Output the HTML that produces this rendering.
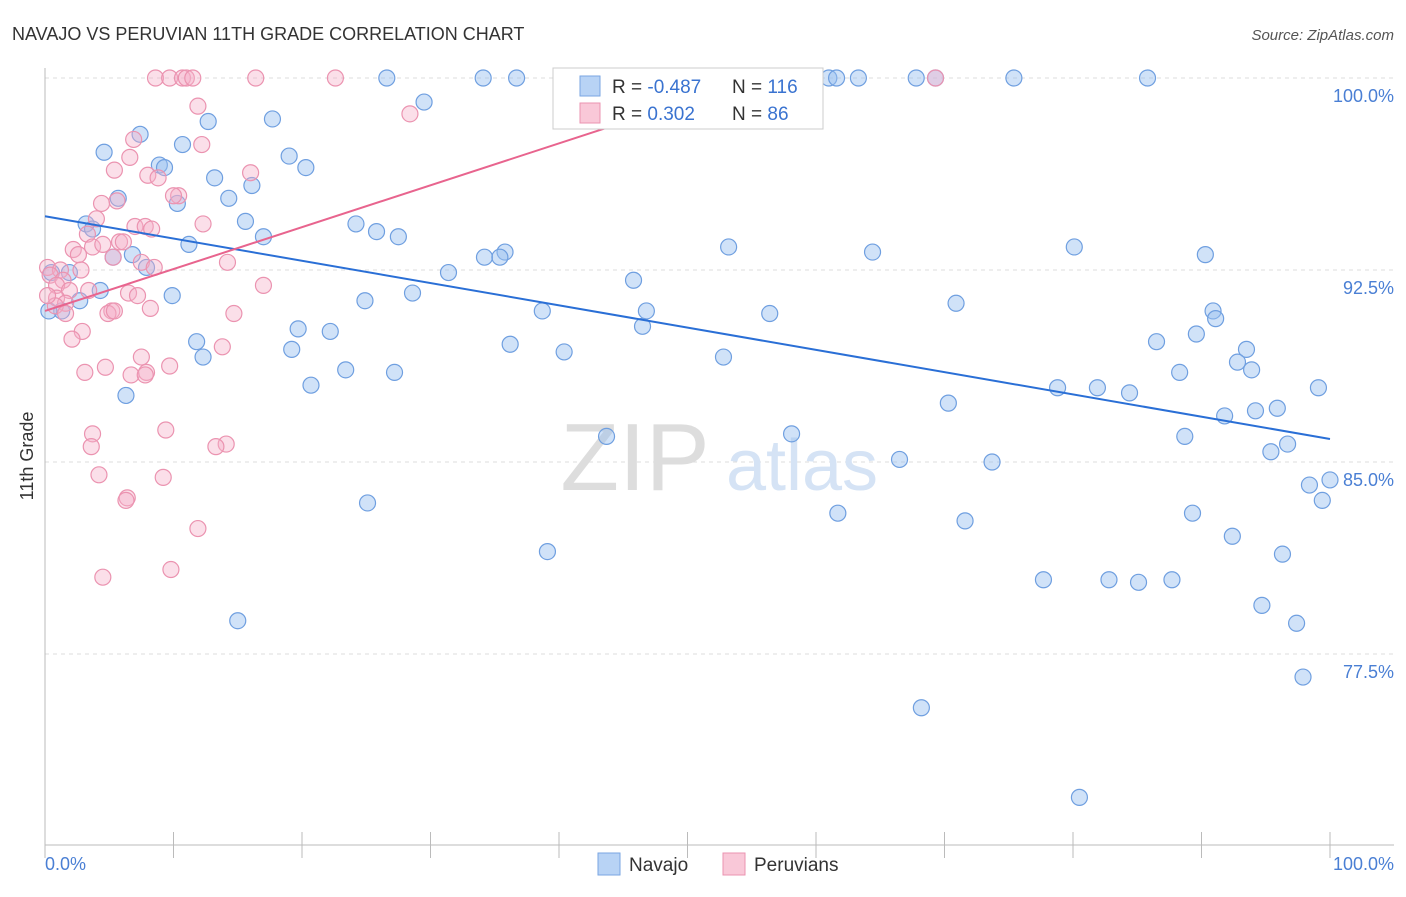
<!DOCTYPE html>
<html><head><meta charset="utf-8"><style>
body{margin:0;background:#fff;font-family:"Liberation Sans",sans-serif;}
svg text{font-family:"Liberation Sans",sans-serif;}
</style></head><body>
<svg width="1406" height="892">
<text x="12" y="40" font-size="18" fill="#333">NAVAJO VS PERUVIAN 11TH GRADE CORRELATION CHART</text>
<text x="1394" y="40" font-size="15" fill="#555" font-style="italic" text-anchor="end">Source: ZipAtlas.com</text>
<g id="grid"></g>
<text x="635" y="490" font-size="96" fill="#ddd" font-family="Liberation Serif" text-anchor="middle">ZIP</text>
<text x="802" y="490" font-size="72" fill="#d5e3f5" text-anchor="middle">atlas</text>
<g id="pts"></g>
<g id="lines"></g>
<text x="33" y="456" font-size="18" fill="#333" transform="rotate(-90 33 456)" text-anchor="middle">11th Grade</text>
<text x="45" y="870" font-size="18" fill="#4a7fd4">0.0%</text>
<text x="1394" y="870" font-size="18" fill="#4a7fd4" text-anchor="end">100.0%</text>
<g>
<rect x="553" y="68" width="270" height="61" fill="#fff" stroke="#ccc"/>
<rect x="580" y="76" width="20" height="20" fill="#b8d3f5" stroke="#7aa6e2"/>
<rect x="580" y="103" width="20" height="20" fill="#f9c8d8" stroke="#eb93b0"/>
<text x="612" y="93" font-size="19" fill="#333">R = <tspan fill="#3a73d0">-0.487</tspan></text>
<text x="732" y="93" font-size="19" fill="#333">N = <tspan fill="#3a73d0">116</tspan></text>
<text x="612" y="120" font-size="19" fill="#333">R = <tspan fill="#3a73d0"> 0.302</tspan></text>
<text x="732" y="120" font-size="19" fill="#333">N = <tspan fill="#3a73d0"> 86</tspan></text>
</g>
<g>
<rect x="598" y="853" width="22" height="22" fill="#b8d3f5" stroke="#7aa6e2"/>
<text x="629" y="871" font-size="19" fill="#333">Navajo</text>
<rect x="723" y="853" width="22" height="22" fill="#f9c8d8" stroke="#eb93b0"/>
<text x="754" y="871" font-size="19" fill="#333">Peruvians</text>
</g>
</svg>
<script>
const yTicks=[100,92.5,85,77.5];
const yTickLabels=["100.0%","92.5%","85.0%","77.5%"];
const navX=[26.6,34.1,36.7,52.4,61.0,61.6,63.3,67.8,69.3,75.4,85.8,29.5,17.7,12.7,7.4,4.6,10.7,19.0,8.9,9.3,20.3,13.2,16.1,5.7,14.3,10.3,15.6,24.2,25.8,27.5,3.2,3.7,17.0,11.2,53.2,80.1,35.8,34.2,35.4,64.4,90.3,5.3,6.8,7.9,1.9,0.5,31.4,45.8,4.3,28.6,9.9,24.9,2.7,70.9,1.3,0.3,38.7,46.8,56.4,90.9,91.1,46.5,19.7,22.2,89.6,11.8,19.2,36.2,40.4,86.5,93.5,12.3,52.8,92.8,93.9,23.4,27.2,88.3,20.7,78.8,81.9,84.4,99.1,6.3,70.3,94.2,95.9,91.8,43.7,58.1,88.7,96.7,95.4,66.5,73.7,98.4,100,99.4,25.1,89.3,61.7,71.6,92.4,39.1,96.3,77.7,82.8,85.1,87.7,94.7,15.0,97.4,97.9,68.2,80.5];
const navY=[100,100,100,100,100,100,100,100,100,100,100,99.06,98.4,98.3,97.8,97.1,97.4,96.95,96.6,96.5,96.5,96.1,95.8,95.3,95.3,95.1,94.4,94.3,94.0,93.8,94.3,94.1,93.8,93.5,93.4,93.4,93.2,93.0,93.0,93.2,93.1,93.0,93.1,92.6,92.4,92.4,92.4,92.1,91.7,91.6,91.5,91.3,91.3,91.2,90.9,90.9,90.9,90.9,90.8,90.9,90.6,90.3,90.2,90.1,90.0,89.7,89.4,89.6,89.3,89.7,89.4,89.1,89.1,88.9,88.6,88.6,88.5,88.5,88.0,87.9,87.9,87.7,87.9,87.6,87.3,87.0,87.1,86.8,86.0,86.1,86.0,85.7,85.4,85.1,85.0,84.1,84.3,83.5,83.4,83.0,83.0,82.7,82.1,81.5,81.4,80.4,80.4,80.3,80.4,79.4,78.8,78.7,76.6,75.4,71.9];
const perX=[8.6,9.7,10.7,11.0,11.5,16.4,22.6,69.3,11.9,28.4,6.9,12.2,6.6,16.0,5.4,8.0,8.8,10.4,10.0,5.6,4.4,4.0,12.3,3.3,7.0,7.8,8.3,5.8,6.1,3.7,2.2,4.5,2.6,5.3,7.5,8.5,14.2,0.2,1.2,2.8,0.4,1.4,17.0,0.9,1.9,3.4,6.5,7.2,0.9,1.6,0.8,0.2,8.2,5.2,4.9,5.4,14.7,1.6,2.9,2.1,13.8,7.5,9.7,4.7,3.1,6.7,7.9,7.8,9.4,3.7,3.6,14.1,13.3,4.2,9.2,6.4,6.3,11.9,4.5,9.8];
const perY=[100,100,100,100,100,100,100,100,98.9,98.6,97.6,97.4,96.9,96.3,96.4,96.2,96.1,95.4,95.4,95.2,95.1,94.5,94.3,93.9,94.2,94.2,94.1,93.6,93.6,93.4,93.3,93.5,93.1,93.0,92.8,92.6,92.8,92.6,92.5,92.5,92.3,92.1,91.9,91.9,91.7,91.7,91.6,91.5,91.4,91.2,91.1,91.5,91.0,90.9,90.8,90.9,90.8,90.8,90.1,89.8,89.5,89.1,88.75,88.7,88.5,88.4,88.5,88.4,86.25,86.1,85.6,85.7,85.6,84.5,84.4,83.6,83.5,82.4,80.5,80.8];
const navTrend=[94.6,85.9];
const perTrend=[90.9,100.0];
const perTrendEnd=55.6;
const NS="http://www.w3.org/2000/svg";
const X=v=>45+v*12.85, Y=v=>78+(100-v)*25.6;
function mk(t,a,p){const e=document.createElementNS(NS,t);for(const k in a)e.setAttribute(k,a[k]);p.appendChild(e);return e;}
const grid=document.getElementById('grid');
yTicks.forEach((t,i)=>{
 const l=mk('line',{x1:45,x2:1394,y1:Y(t),y2:Y(t),stroke:'#ddd','stroke-dasharray':'4,4'},grid);
 
 
 const tx=mk('text',{x:1394,y:Y(t)+24,'font-size':18,fill:'#4a7fd4','text-anchor':'end'},grid);
 tx.textContent=yTickLabels[i];
 
 
});
const ax=mk('line',{x1:45,x2:45,y1:68,y2:845,stroke:'#bbb'},grid);


const bx=mk('line',{x1:45,x2:1394,y1:845,y2:845,stroke:'#bbb'},grid);


for(let i=0;i<=10;i++){
 const t=mk('line',{x1:X(i*10),x2:X(i*10),y1:832,y2:858,stroke:'#bbb'},grid);
 
 
}
const pts=document.getElementById('pts');
navX.forEach((x,i)=>{
 const c=mk('circle',{cx:X(x),cy:Y(navY[i]),r:8,fill:'rgba(150,190,240,0.45)',stroke:'#6f9fe0','stroke-width':1.2},pts);
 
 
});
perX.forEach((x,i)=>{
 const c=mk('circle',{cx:X(x),cy:Y(perY[i]),r:8,fill:'rgba(245,175,200,0.4)',stroke:'#eb93b0','stroke-width':1.2},pts);
 
 
});
const lines=document.getElementById('lines');
const nl=mk('line',{x1:X(0),y1:Y(navTrend[0]),x2:X(100),y2:Y(navTrend[1]),stroke:'#2a6fd6','stroke-width':2},lines);


const pl=mk('line',{x1:X(0),y1:Y(perTrend[0]),x2:X(perTrendEnd),y2:Y(perTrend[1]),stroke:'#e8648e','stroke-width':2},lines);


</script>
</body></html>
